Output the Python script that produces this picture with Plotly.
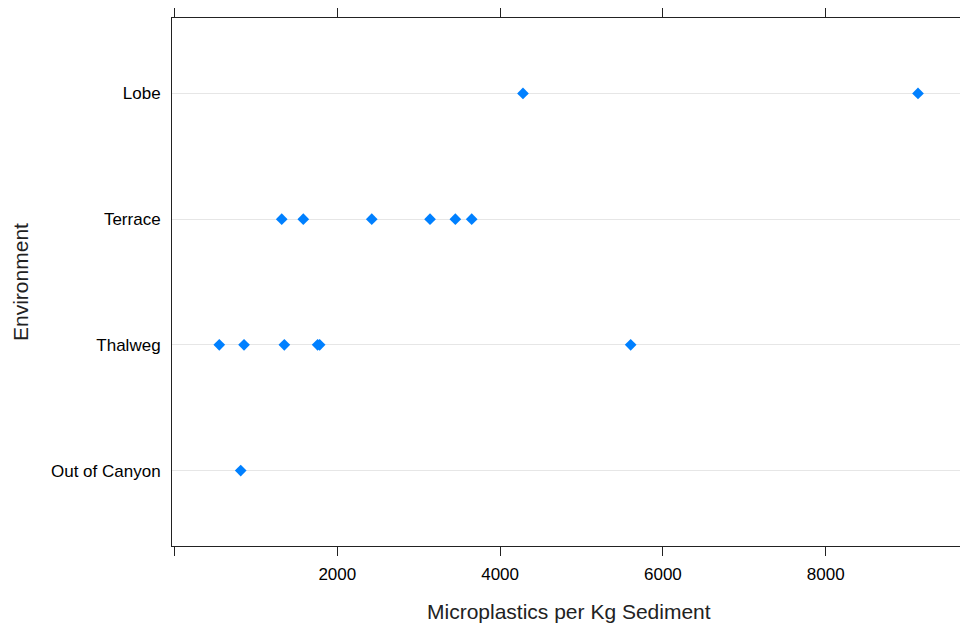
import plotly.graph_objects as go

categories = ["Out of Canyon", "Thalweg", "Terrace", "Lobe"]
lobe = [4281, 9134]
terrace = [1317, 1582, 2423, 3139, 3450, 3651]
thalweg = [550, 854, 1349, 1758, 1783, 5604]
out_of_canyon = [813]

x_ticks = [0, 2000, 4000, 6000, 8000]
x_ticktext = ["", "2000", "4000", "6000", "8000"]

xs, ys = [], []
for name, vals in [("Lobe", lobe), ("Terrace", terrace), ("Thalweg", thalweg), ("Out of Canyon", out_of_canyon)]:
    xs += vals
    ys += [name] * len(vals)

fig = go.Figure()
fig.add_trace(go.Scatter(
    x=xs, y=ys, mode="markers",
    marker=dict(symbol="diamond", size=9, color="#0080ff", line=dict(width=0)),
    showlegend=False, hoverinfo="x+y",
))

font = "Liberation Sans, Arial, sans-serif"
fig.update_layout(
    width=960, height=630,
    margin=dict(l=172, r=0, t=18, b=84),
    plot_bgcolor="white", paper_bgcolor="white",
    font=dict(family=font, color="black"),
    xaxis=dict(
        range=[-31, 9650], tickvals=x_ticks, ticktext=x_ticktext,
        showgrid=False, zeroline=False,
        showline=True, linecolor="#222", linewidth=1, mirror="ticks",
        ticks="outside", ticklen=9, tickcolor="#222", tickwidth=1,
        ticklabelstandoff=4,
        tickfont=dict(size=17, color="black"),
    ),
    yaxis=dict(
        type="category", categoryorder="array", categoryarray=categories,
        range=[-0.6, 3.6],
        showgrid=True, gridcolor="#e6e6e6", gridwidth=1, zeroline=False,
        showline=True, linecolor="#222", linewidth=1, mirror=False,
        ticks="", ticklabelstandoff=7,
        tickfont=dict(size=17, color="black"),
    ),
    annotations=[
        dict(text="Microplastics per Kg Sediment", xref="paper", yref="paper",
             x=0.5038, y=0, yshift=-65, xanchor="center", yanchor="middle",
             showarrow=False, font=dict(size=21, color="#222")),
        dict(text="Environment", xref="paper", yref="paper",
             x=0, xshift=-152, y=0.5, textangle=-90, xanchor="center", yanchor="middle",
             showarrow=False, font=dict(size=21, color="#222")),
    ],
)

fig.write_html("out.html")
